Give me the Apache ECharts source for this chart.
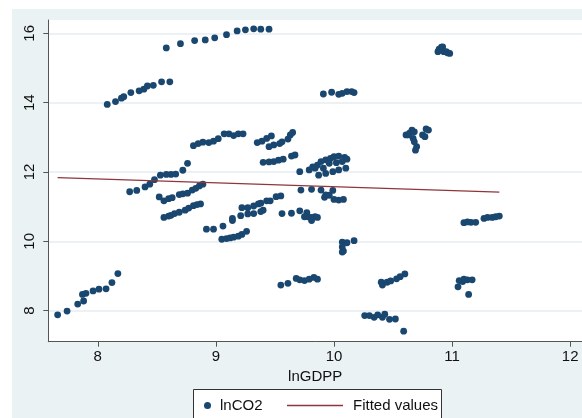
<!DOCTYPE html>
<html><head><meta charset="utf-8">
<script src="https://cdn.jsdelivr.net/npm/echarts@6/dist/echarts.min.js"></script>
<style>html,body{margin:0;padding:0;background:#fff}#c{width:582px;height:418px}</style>
</head><body><div id="c"></div>
<script>
// lnGDPP / lnCO2 pairs, grouped by visible clusters
const grpA = [[7.66,7.88],[7.74,7.99],[7.83,8.19],[7.87,8.47],[7.88,8.28],[7.90,8.50],[7.96,8.57],[8.01,8.62],[8.07,8.63],[8.12,8.81],[8.17,9.07]];
const grpB = [[8.08,13.95],[8.15,14.03],[8.20,14.13],[8.22,14.17],[8.28,14.29],[8.35,14.34],[8.39,14.39],[8.42,14.48],[8.47,14.50],[8.54,14.60],[8.61,14.60]];
const grpC = [[8.58,15.58],[8.70,15.70],[8.82,15.79],[8.91,15.81],[8.99,15.87],[9.09,15.96],[9.18,16.07],[9.25,16.10],[9.32,16.13],[9.38,16.12],[9.45,16.12]];
const grpD = [[8.81,12.76],[8.85,12.82],[8.89,12.86],[8.94,12.85],[8.98,12.89],[9.02,12.96],[9.07,13.10],[9.11,13.10],[9.15,13.05],[9.19,13.10],[9.23,13.10]];
const grpE = [[8.27,11.43],[8.33,11.47],[8.40,11.57],[8.44,11.65],[8.48,11.78],[8.53,11.91],[8.58,11.93],[8.62,11.93],[8.66,11.94],[8.72,12.05],[8.76,12.25]];
const grpF = [[8.52,11.28],[8.56,11.17],[8.60,11.23],[8.63,11.26],[8.69,11.35],[8.72,11.37],[8.76,11.39],[8.80,11.48],[8.83,11.53],[8.86,11.60],[8.89,11.65]];
const grpG = [[8.56,10.69],[8.60,10.73],[8.62,10.75],[8.65,10.80],[8.69,10.84],[8.74,10.90],[8.77,10.96],[8.81,11.03],[8.84,11.06],[8.87,11.08]];
const grpH = [[8.92,10.35],[8.98,10.35],[9.06,10.44],[9.14,10.60],[9.14,10.66],[9.05,10.06],[9.09,10.08],[9.12,10.10],[9.15,10.12],[9.19,10.15],[9.22,10.20],[9.26,10.29]];
const grpI = [[9.22,10.97],[9.27,10.97],[9.32,11.02],[9.36,11.08],[9.38,11.10],[9.43,11.17],[9.46,11.17],[9.51,11.29],[9.55,11.31],
              [9.21,10.74],[9.27,10.79],[9.32,10.80],[9.38,10.86],[9.40,10.90],
              [9.56,10.80],[9.64,10.81],[9.71,10.88],[9.77,10.83],[9.78,10.71],[9.81,10.69],[9.84,10.71],[9.86,10.69],[9.75,10.71],[9.81,10.60]];
const grpJ = [[9.35,12.85],[9.39,12.89],[9.43,12.97],[9.47,13.04],[9.45,12.73],[9.49,12.78],[9.54,12.82],[9.56,12.87],[9.61,12.95],[9.63,13.07],[9.65,13.14]];
const grpK = [[9.40,12.28],[9.45,12.29],[9.49,12.30],[9.53,12.34],[9.57,12.37],[9.64,12.46],[9.67,12.49],[9.71,12.01]];
const grpL = [[9.79,12.06],[9.82,12.15],[9.86,12.20],[9.89,12.30],[9.93,12.35],[9.97,12.39],[10.00,12.44],[10.04,12.46],[10.09,12.42],[10.11,12.37],
              [9.87,11.91],[9.93,11.96],[9.99,12.01],[10.04,12.06],[10.10,12.11],[9.96,12.25],[10.02,12.27],[10.07,12.30],[9.84,12.11],[9.91,12.11]];
const grpM = [[9.72,11.48],[9.81,11.50],[9.89,11.48],[9.99,11.47],[9.93,11.34],[9.92,11.27],[9.96,11.33],[10.00,11.21],[10.04,11.19],[10.08,11.21]];
const grpN = [[10.07,9.98],[10.11,9.96],[10.17,10.02],[10.07,9.84],[10.08,9.72],[10.07,9.69]];
const grpO = [[9.55,8.74],[9.61,8.79],[9.68,8.93],[9.71,8.89],[9.75,8.87],[9.79,8.91],[9.83,8.96],[9.86,8.91]];
const grpP = [[10.40,8.82],[10.41,8.74],[10.45,8.82],[10.48,8.86],[10.53,8.92],[10.56,8.98],[10.60,9.06]];
const grpQ = [[10.26,7.86],[10.30,7.86],[10.34,7.81],[10.37,7.88],[10.41,7.81],[10.43,7.90],[10.47,7.75],[10.52,7.76],[10.59,7.41]];
const grpR = [[11.05,8.69],[11.06,8.87],[11.09,8.84],[11.10,8.91],[11.13,8.89],[11.17,8.89],[11.14,8.47]];
const grpS = [[11.10,10.54],[11.13,10.56],[11.16,10.55],[11.20,10.55],[11.27,10.66],[11.30,10.69],[11.34,10.69],[11.37,10.71],[11.40,10.73]];
const grpT = [[10.88,15.47],[10.89,15.54],[10.91,15.60],[10.92,15.61],[10.93,15.47],[10.95,15.47],[10.96,15.44],[10.98,15.42]];
const grpU = [[10.61,13.07],[10.63,13.07],[10.66,13.21],[10.67,12.97],[10.68,12.87],[10.70,12.73],[10.69,12.63],[10.68,13.16],[10.75,13.07],[10.77,13.02],[10.78,13.24],[10.80,13.21],[10.64,13.12]];
const grpV = [[9.91,14.25],[9.98,14.30],[10.04,14.24],[10.07,14.27],[10.11,14.32],[10.15,14.32],[10.17,14.29]];

const fitX = [7.66, 11.40];
const fitY = [11.84, 11.42];

const xTicks = [8, 9, 10, 11, 12];
const yTicks = [8, 10, 12, 14, 16];

const scatterData = [].concat(grpA,grpB,grpC,grpD,grpE,grpF,grpG,grpH,grpI,grpJ,grpK,grpL,grpM,grpN,grpO,grpP,grpQ,grpR,grpS,grpT,grpU,grpV);
const fitData = fitX.map((x, i) => [x, fitY[i]]);

const FONT = "'Liberation Sans', Arial, sans-serif";
const chart = echarts.init(document.getElementById('c'), null, {renderer: 'canvas'});
chart.setOption({
  animation: false,
  backgroundColor: '#ffffff',
  graphic: [
    {type: 'rect', z: -10, silent: true, shape: {x: 12, y: 9, width: 600, height: 420}, style: {fill: '#eaf2f3'}},
    {type: 'rect', z: 5, silent: true, shape: {x: 193.5, y: 389.5, width: 248, height: 30}, style: {fill: '#ffffff', stroke: '#333333', lineWidth: 1}}
  ],
  grid: {left: 48.3, top: 20, right: -7.7, bottom: 76.3, show: true, backgroundColor: '#ffffff', borderWidth: 0, containLabel: false},
  xAxis: {
    type: 'value', min: 7.581, max: 12.1,
    name: 'lnGDPP', nameLocation: 'middle', nameGap: 23,
    nameTextStyle: {fontFamily: FONT, fontSize: 15, color: '#111'},
    axisLine: {show: true, onZero: false, lineStyle: {color: '#555', width: 1}},
    axisTick: {show: true, length: 5, customValues: xTicks, lineStyle: {color: '#555'}},
    axisLabel: {customValues: xTicks, fontFamily: FONT, fontSize: 15, color: '#111', margin: 8},
    splitLine: {show: false}
  },
  yAxis: {
    type: 'value', min: 7.106, max: 16.384,
    axisLine: {show: true, onZero: false, lineStyle: {color: '#555', width: 1}},
    axisTick: {show: true, length: 5, customValues: yTicks, lineStyle: {color: '#555'}},
    axisLabel: {customValues: yTicks, rotate: 90, fontFamily: FONT, fontSize: 15, color: '#111', margin: 11},
    splitLine: {show: true, lineStyle: {color: '#e4edf0', width: 1.5}}
  },
  legend: [
    {data: ['lnCO2'], left: 199, top: 393, itemWidth: 7, itemHeight: 7, z: 10,
     textStyle: {fontFamily: FONT, fontSize: 15, color: '#111', padding: [0,0,0,4]}},
    {data: [{name: 'Fitted values', icon: 'rect'}], left: 282, top: 393, itemWidth: 56, itemHeight: 1.4, z: 10,
     textStyle: {fontFamily: FONT, fontSize: 15, color: '#111', padding: [0,0,0,5]}}
  ],
  series: [
    {name: 'lnCO2', type: 'scatter', data: scatterData, symbol: 'circle', symbolSize: 6.8,
     itemStyle: {color: '#1a476f', opacity: 1}, z: 2},
    {name: 'Fitted values', type: 'line', data: fitData, symbol: 'none', showSymbol: false,
     lineStyle: {color: '#90353b', width: 1.3}, itemStyle: {color: '#90353b'}, z: 3}
  ]
});
</script></body></html>
